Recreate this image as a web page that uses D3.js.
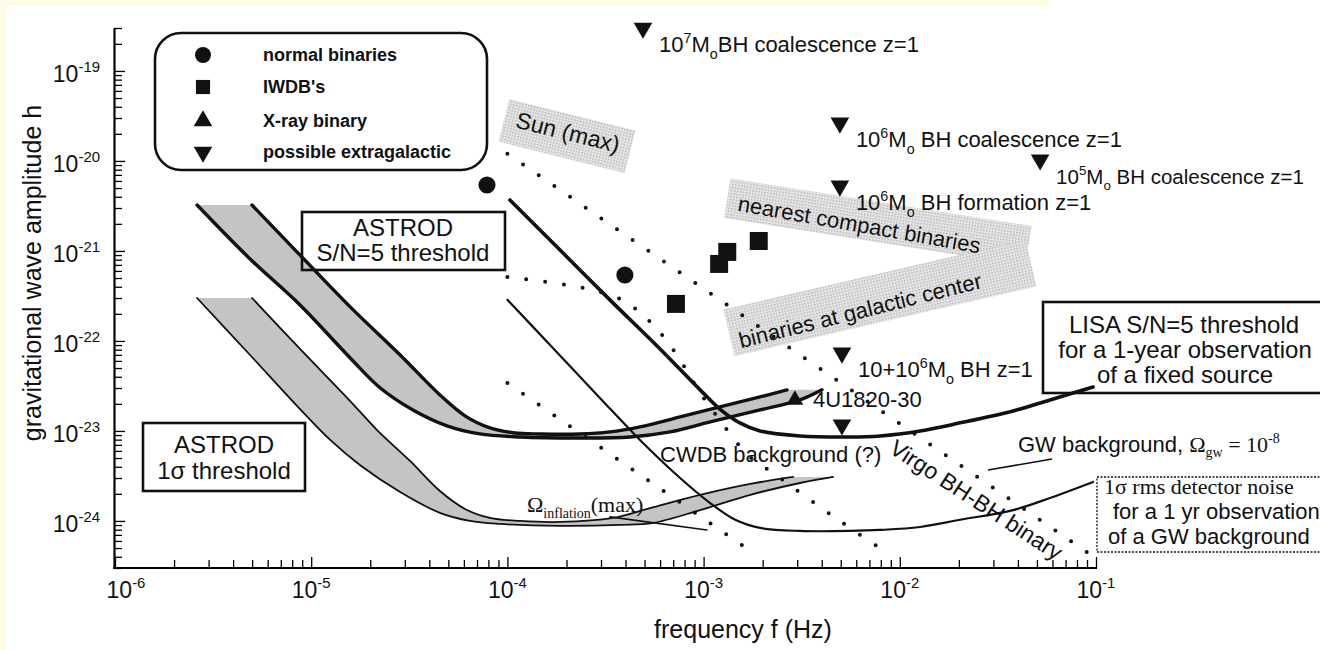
<!DOCTYPE html>
<html><head><meta charset="utf-8">
<script src="https://cdn.jsdelivr.net/npm/d3@7"></script>
<style>
html,body{margin:0;padding:0;background:#fff;}
svg{display:block;}
text{font-family:"Liberation Sans",Arial,Helvetica,sans-serif;fill:#111;}
.serif{font-family:"Liberation Serif","Times New Roman",serif;}
</style></head><body>
<svg id="c" width="1320" height="650"></svg>
<script>
// ---------------- data ----------------
const xDomain=[1e-6,1e-1];
const yDomain=[3e-25,3e-19];
const xDecades=[-6,-5,-4,-3,-2,-1];
const yDecades=[-19,-20,-21,-22,-23,-24];

// ASTROD S/N=5 threshold band (upper and lower edges)
const astrodSN5Upper=[[4.99e-6,3.24e-21],[8.77e-6,9.0e-22],[1.58e-5,2.39e-22],[2.84e-5,6.98e-23],[4.53e-5,2.51e-23],[6.08e-5,1.47e-23],[8.15e-5,1.08e-23],[1.09e-4,9.5e-24],[1.47e-4,9.26e-24],[2.34e-4,9.26e-24],[3.33e-4,9.75e-24],[4.74e-4,1.11e-23],[7.59e-4,1.43e-23],[1.21e-3,1.85e-23],[1.94e-3,2.39e-23],[2.66e-3,2.86e-23]];
const astrodSN5Lower=[[2.62e-6,3.24e-21],[4.88e-6,8.15e-22],[8.77e-6,2.51e-22],[1.58e-5,6.47e-23],[2.25e-5,3.0e-23],[3.30e-5,1.71e-23],[4.92e-5,1.14e-23],[7.24e-5,9.26e-24],[1.16e-4,8.57e-24],[2.34e-4,8.36e-24],[4.22e-4,8.57e-24],[6.75e-4,9.75e-24],[1.08e-3,1.26e-23],[1.94e-3,1.71e-23],[3.10e-3,2.21e-23],[4.01e-3,2.86e-23]];
// ASTROD 1 sigma threshold band
const astrod1sUpper=[[4.99e-6,3.0e-22],[8.77e-6,8.15e-23],[1.58e-5,2.15e-23],[2.16e-5,1.03e-23],[3.19e-5,4.64e-24],[4.53e-5,2.15e-24],[6.08e-5,1.36e-24],[8.15e-5,1.08e-24],[1.16e-4,1.0e-24],[1.85e-4,9.75e-25],[3.45e-4,1.08e-24],[5.33e-4,1.39e-24],[9.6e-4,1.95e-24],[1.73e-3,2.58e-24],[2.86e-3,3.08e-24]];
const astrod1sLower=[[2.62e-6,3.0e-22],[4.88e-6,6.98e-23],[8.77e-6,1.75e-23],[1.25e-5,7.94e-24],[1.77e-5,4.19e-24],[2.84e-5,2.10e-24],[4.53e-5,1.23e-24],[6.44e-5,1.0e-24],[9.16e-5,9.26e-25],[1.85e-4,8.8e-25],[3.75e-4,9.03e-25],[5.52e-4,9.5e-25],[9.6e-4,1.32e-24],[1.73e-3,1.95e-24],[3.10e-3,2.64e-24],[4.57e-3,3.08e-24]];
// LISA S/N=5 threshold
const lisaSN5=[[1.03e-4,3.69e-21],[1.85e-4,1.03e-21],[3.33e-4,2.86e-22],[6.0e-4,8.15e-23],[9.6e-4,2.86e-23],[1.21e-3,1.75e-23],[1.53e-3,1.23e-23],[1.94e-3,1.0e-23],[3.10e-3,8.8e-24],[5.57e-3,8.57e-24],[7.93e-3,8.8e-24],[1.27e-2,1.0e-23],[2.03e-2,1.23e-23],[3.78e-2,1.67e-23],[5.83e-2,2.21e-23],[9.66e-2,3.08e-23]];
// LISA 1 sigma rms detector noise (GW background, 1 yr)
const lisaRms=[[1.0e-4,2.86e-22],[1.65e-4,9.03e-23],[2.96e-4,2.33e-23],[4.74e-4,7.94e-24],[7.59e-4,3.0e-24],[1.08e-3,1.58e-24],[1.45e-3,1.03e-24],[1.94e-3,8.36e-25],[3.10e-3,7.74e-25],[5.57e-3,7.74e-25],[7.93e-3,7.94e-25],[1.27e-2,8.57e-25],[2.03e-2,1.03e-24],[3.78e-2,1.32e-24],[5.83e-2,1.80e-24],[9.66e-2,2.71e-24]];
// Omega_inflation (max)
const inflationLine=[[3.33e-4,1.11e-24],[1.04e-3,7.94e-25]];
// dotted tracks
const dottedA=[[1.0e-4,1.2e-20],[9.1e-2,4.41e-25]];
const dottedB=[[1.0e-4,3.41e-23],[1.79e-3,4.41e-25]];
const dottedC=[[1.0e-4,5.14e-22],[1.57e-4,4.53e-22],[2.43e-4,3.88e-22],[3.84e-4,2.86e-22],[5.46e-4,1.55e-22],[7.31e-4,6.98e-23],[9.25e-4,3.0e-23],[1.21e-3,1.32e-23],[1.68e-3,5.41e-24],[2.26e-3,3.41e-24],[4.79e-3,1.05e-24],[8.91e-3,4.19e-25]];
// sources
const normalBinaries=[[7.87e-5,5.41e-21],[3.97e-4,5.41e-22]];
const iwdbs=[[7.23e-4,2.58e-22],[1.20e-3,7.17e-22],[1.32e-3,9.75e-22],[1.91e-3,1.29e-21]];
const xrayBinaries=[[2.92e-3,2.21e-23]];
const xrayLabels=[[["4U1820-30",""]]];
const extragalactic=[[4.91e-4,3.0e-19],[4.95e-3,2.64e-20],[5.19e-2,1.03e-20],[4.95e-3,5.27e-21],[5.07e-3,7.36e-23],[5.07e-3,1.17e-23]];
const extragalacticLabels=[
 [["10",""],["7","sup"],["M",""],["o","sub"],["BH coalescence z=1",""]],
 [["10",""],["6","sup"],["M",""],["o","sub"],[" BH coalescence z=1",""]],
 [["10",""],["5","sup"],["M",""],["o","sub"],[" BH coalescence z=1",""]],
 [["10",""],["6","sup"],["M",""],["o","sub"],[" BH formation z=1",""]],
 [["10+10",""],["6","sup"],["M",""],["o","sub"],[" BH z=1",""]],
 []
];
const legendItems=["normal binaries","IWDB's","X-ray binary","possible extragalactic"];

// ---------------- drawing ----------------
const svg=d3.select("#c");
const defs=svg.append("defs");
const pat=defs.append("pattern").attr("id","stip").attr("width",3).attr("height",3).attr("patternUnits","userSpaceOnUse");
pat.append("rect").attr("width",3).attr("height",3).attr("fill","#e6e6e6");
pat.append("rect").attr("width",1.5).attr("height",1.5).attr("fill","#b4b4b4");

svg.append("rect").attr("width",1320).attr("height",650).attr("fill","#fff");
svg.append("rect").attr("x",0).attr("y",0).attr("width",1052).attr("height",6).attr("fill","#fefde4");
svg.append("rect").attr("x",0).attr("y",0).attr("width",6).attr("height",650).attr("fill","#fefde4");

const x=d3.scaleLog().domain(xDomain).range([115,1096]);
const y=d3.scaleLog().domain(yDomain).range([568,28]);

function rich(sel,segs,size){
  let shift=0;
  segs.forEach(([t,k])=>{
    const target=k==="sup"?-0.42*size:(k==="sub"?0.3*size:0);
    const ts=sel.append("tspan").attr("dy",target-shift).text(t);
    if(k) ts.attr("font-size",size*0.65);
    shift=target;
  });
}

// stippled text bands
function stripe(cx,cy,w,h,ang){
  svg.append("rect").attr("x",-w/2).attr("y",-h/2).attr("width",w).attr("height",h)
    .attr("fill","url(#stip)").attr("transform",`translate(${cx},${cy}) rotate(${ang})`);
}
stripe(567,136,130,44,14);
stripe(878,222,305,40,9);
stripe(880,298,310,48,-13);

// gray bands
const line=d3.line().x(d=>x(d[0])).y(d=>y(d[1])).curve(d3.curveCatmullRom.alpha(0.5));
function bandPath(up,lo){
  return line(up)+"L"+line(lo.slice().reverse()).slice(1)+"Z";
}
svg.append("path").attr("d",bandPath(astrodSN5Upper,astrodSN5Lower)).attr("fill","#c4c4c4");
svg.append("path").attr("d",bandPath(astrod1sUpper,astrod1sLower)).attr("fill","#c4c4c4");

function curve(data,w){
  svg.append("path").attr("d",line(data)).attr("fill","none").attr("stroke","#111")
    .attr("stroke-width",w).attr("stroke-linejoin","round").attr("stroke-linecap","round");
}
curve(astrodSN5Upper,3.4);
curve(astrodSN5Lower,3.4);
curve(astrod1sUpper,1.8);
curve(astrod1sLower,1.8);
curve(lisaSN5,3.6);
curve(lisaRms,2.2);
curve(inflationLine,1.6);

function dotted(data){
  svg.append("path").attr("d",line(data)).attr("fill","none").attr("stroke","#111")
    .attr("stroke-width",4).attr("stroke-linecap","round").attr("stroke-dasharray","0 19");
}
dotted(dottedA);dotted(dottedB);dotted(dottedC);

// axes
const xt=[],yt=[];
for(let e=-6;e<=-1;e++)for(let m=1;m<10;m++){const v=m*Math.pow(10,e);if(v<=xDomain[1]*1.0001)xt.push(v);}
for(let e=-25;e<=-19;e++)for(let m=1;m<10;m++){const v=m*Math.pow(10,e);if(v>=yDomain[0]*0.9999&&v<=yDomain[1]*1.0001)yt.push(v);}
const isMajor=v=>Math.abs(Math.log10(v)-Math.round(Math.log10(v)))<1e-6;
const gx=svg.append("g").attr("transform","translate(0,568)")
  .call(d3.axisBottom(x).tickValues(xt).tickFormat("").tickSize(-8).tickSizeOuter(0));
gx.selectAll(".tick line").attr("y2",d=>isMajor(d)?-11:-8).attr("stroke-width",1.3);
gx.select(".domain").attr("stroke-width",2.2).attr("d","M113,0H1097");
const gy=svg.append("g").attr("transform","translate(114,0)")
  .call(d3.axisLeft(y).tickValues(yt).tickFormat("").tickSize(-8).tickSizeOuter(0));
gy.selectAll(".tick line").attr("x2",d=>isMajor(d)?11:8).attr("stroke-width",1.3);
gy.select(".domain").attr("stroke-width",2.2);

xDecades.forEach((e,i)=>{
  const t=svg.append("text").attr("x",x(Math.pow(10,e))+(i===0?11:0)).attr("y",598)
    .attr("text-anchor","middle").attr("font-size",23);
  rich(t,[["10",""],[String(e),"sup"]],23);
});
yDecades.forEach(e=>{
  const t=svg.append("text").attr("x",100).attr("y",y(Math.pow(10,e))+11)
    .attr("text-anchor","end").attr("font-size",23);
  rich(t,[["10",""],[String(e),"sup"]],23);
});
svg.append("text").attr("x",743).attr("y",638).attr("text-anchor","middle").attr("font-size",25).text("frequency f (Hz)");
svg.append("text").attr("transform","translate(41,273) rotate(-90)").attr("text-anchor","middle").attr("font-size",25).text("gravitational wave amplitude h");

// markers
const sym=(type,size)=>d3.symbol().type(type).size(size)();
svg.selectAll(".nb").data(normalBinaries).join("path").attr("d",sym(d3.symbolCircle,230))
  .attr("transform",d=>`translate(${x(d[0])},${y(d[1])})`).attr("fill","#111");
svg.selectAll(".iw").data(iwdbs).join("path").attr("d",sym(d3.symbolSquare,324))
  .attr("transform",d=>`translate(${x(d[0])},${y(d[1])})`).attr("fill","#111");
svg.selectAll(".xr").data(xrayBinaries).join("path").attr("d",sym(d3.symbolTriangle,120))
  .attr("transform",d=>`translate(${x(d[0])},${y(d[1])})`).attr("fill","#111");
svg.selectAll(".eg").data(extragalactic).join("path").attr("d",sym(d3.symbolTriangle,150))
  .attr("transform",d=>`translate(${x(d[0])},${y(d[1])}) rotate(180)`).attr("fill","#111");

extragalactic.forEach((d,i)=>{
  if(!extragalacticLabels[i].length)return;
  const fs=x(d[0])>1000?20.5:22;
  const t=svg.append("text").attr("x",x(d[0])+16).attr("y",y(d[1])+24).attr("font-size",fs);
  rich(t,extragalacticLabels[i],fs);
});
xrayBinaries.forEach((d,i)=>{
  const t=svg.append("text").attr("x",x(d[0])+18).attr("y",y(d[1])+7).attr("font-size",22);
  rich(t,xrayLabels[i],22);
});

// band texts
svg.append("text").attr("transform","translate(566,140) rotate(14)").attr("text-anchor","middle").attr("font-size",23).text("Sun (max)");
svg.append("text").attr("transform","translate(858,232) rotate(10)").attr("text-anchor","middle").attr("font-size",22).text("nearest compact binaries");
svg.append("text").attr("transform","translate(862,318) rotate(-14)").attr("text-anchor","middle").attr("font-size",22).text("binaries at galactic center");
svg.append("text").attr("transform","translate(888,452) rotate(33)").attr("font-size",23).text("Virgo BH-BH binary");

// legend
svg.append("rect").attr("x",155).attr("y",33).attr("width",332).attr("height",137).attr("rx",26)
  .attr("fill","none").attr("stroke","#111").attr("stroke-width",2.6);
const legendSyms=[[d3.symbolCircle,200,0],[d3.symbolSquare,200,0],[d3.symbolTriangle,150,0],[d3.symbolTriangle,150,180]];
legendItems.forEach((s,i)=>{
  const ly=[55,87,121,152][i];
  svg.append("path").attr("d",sym(legendSyms[i][0],legendSyms[i][1]))
    .attr("transform",`translate(203,${ly}) rotate(${legendSyms[i][2]})`).attr("fill","#111");
  svg.append("text").attr("x",263).attr("y",ly+6).attr("font-size",18).attr("font-weight","bold").text(s);
});

// boxes
function box(x0,y0,w,h,dash){
  svg.append("rect").attr("x",x0).attr("y",y0).attr("width",w).attr("height",h)
    .attr("fill","none").attr("stroke","#111").attr("stroke-width",dash?1.3:2.6)
    .attr("stroke-dasharray",dash?"2 1.5":null);
}
box(302,212,203,58);
svg.append("text").attr("x",403).attr("y",236).attr("text-anchor","middle").attr("font-size",24).text("ASTROD");
svg.append("text").attr("x",403).attr("y",261).attr("text-anchor","middle").attr("font-size",24).text("S/N=5 threshold");
box(143,423,162,68);
svg.append("text").attr("x",224).attr("y",453).attr("text-anchor","middle").attr("font-size",24).text("ASTROD");
svg.append("text").attr("x",224).attr("y",479).attr("text-anchor","middle").attr("font-size",24).text("1σ threshold");
box(1043,302,290,91);
svg.append("text").attr("x",1184).attr("y",333).attr("text-anchor","middle").attr("font-size",24).text("LISA S/N=5 threshold");
svg.append("text").attr("x",1185).attr("y",358).attr("text-anchor","middle").attr("font-size",24).text("for a 1-year observation");
svg.append("text").attr("x",1185).attr("y",383).attr("text-anchor","middle").attr("font-size",24).text("of a fixed source");
box(1097,477,240,75,true);
svg.append("text").attr("class","serif").attr("x",1104).attr("y",494).attr("font-size",22).text("1σ rms detector noise");
svg.append("text").attr("x",1113).attr("y",519).attr("font-size",22).text("for a 1 yr observation");
svg.append("text").attr("x",1108).attr("y",544).attr("font-size",22).text("of a GW background");

// other annotations
svg.append("text").attr("x",660).attr("y",462).attr("font-size",22).text("CWDB background (?)");
const inf=svg.append("text").attr("class","serif").attr("x",527).attr("y",512).attr("font-size",22);
inf.append("tspan").text("Ω");
inf.append("tspan").attr("font-size",14).attr("dy",6).text("inflation");
inf.append("tspan").attr("dy",-6).text("(max)");
const gw=svg.append("text").attr("x",1018).attr("y",452).attr("font-size",22);
gw.append("tspan").text("GW background, ");
gw.append("tspan").attr("class","serif").text("Ω");
gw.append("tspan").attr("class","serif").attr("font-size",14).attr("dy",5).text("gw");
gw.append("tspan").attr("class","serif").attr("dy",-5).text(" = 10");
gw.append("tspan").attr("class","serif").attr("font-size",14).attr("dy",-9).text("-8");
svg.append("line").attr("x1",988).attr("y1",470).attr("x2",1052).attr("y2",459).attr("stroke","#111").attr("stroke-width",1.6);
</script>
</body></html>
